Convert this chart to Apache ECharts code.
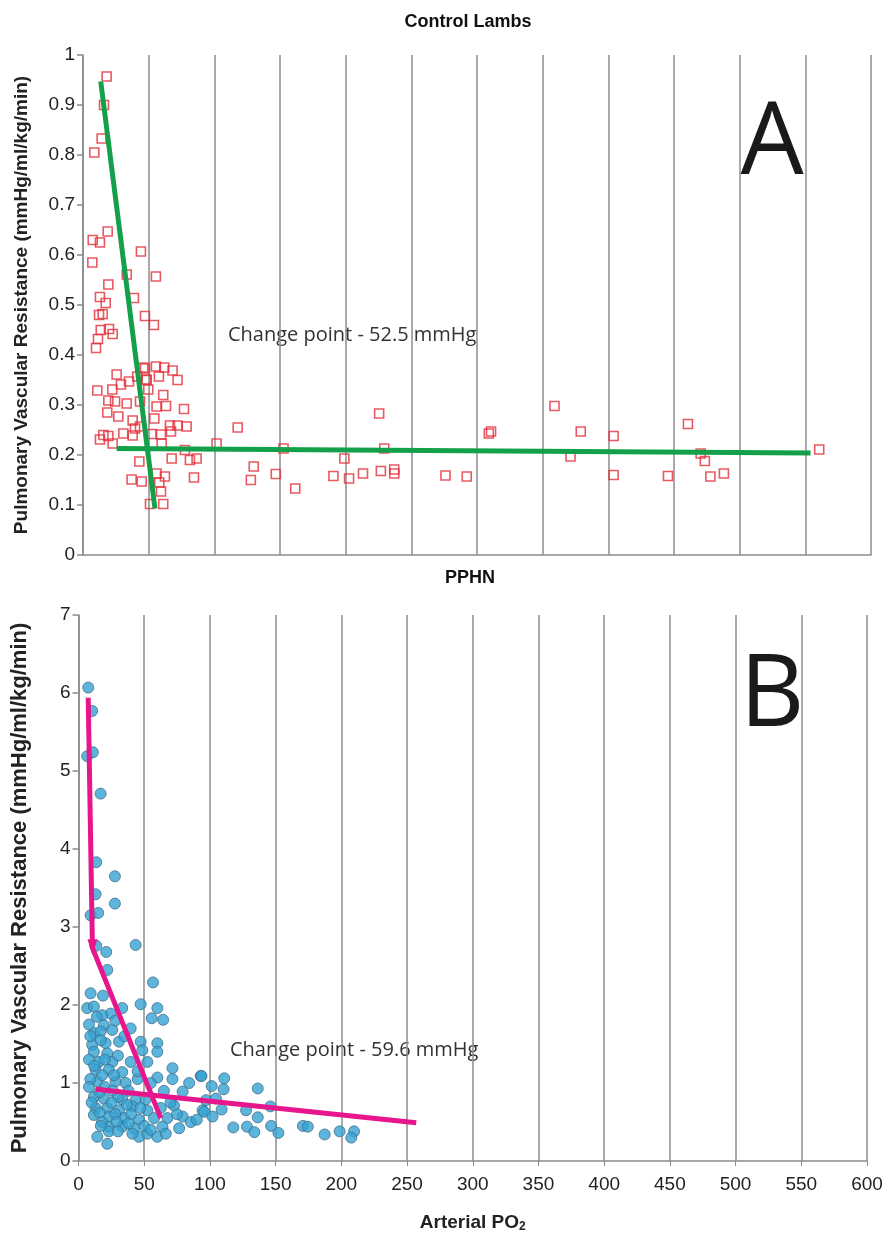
<!DOCTYPE html>
<html>
<head>
<meta charset="utf-8">
<script src="https://cdn.jsdelivr.net/npm/echarts@6/dist/echarts.min.js"></script>
<style>
html,body{margin:0;padding:0;background:#fff;}
#chart{width:888px;height:1234px;}
</style>
</head>
<body>
<div id="chart"></div>
<script>
// ---- Data ----
var xTicks = [0,50,100,150,200,250,300,350,400,450,500,550,600];
var controlTitle = 'Control Lambs';
var pphnTitle = 'PPHN';
var yName = 'Pulmonary Vascular Resistance (mmHg/ml/kg/min)';
var controlNote = 'Change point - 52.5 mmHg';
var pphnNote = 'Change point - 59.6 mmHg';

// Control lambs: [Arterial PO2, PVR]
var controlPoints = [
  [18,0.957],[16,0.90],[14.2,0.833],[8.6,0.805],
  [18.8,0.647],[7.4,0.63],[12.9,0.625],[7.1,0.585],[44.1,0.607],[33.3,0.561],[55.5,0.557],[19.3,0.541],
  [12.9,0.516],[17.3,0.504],[12.2,0.48],[15,0.482],[38.8,0.514],[47.2,0.478],[54,0.46],[13.5,0.45],
  [19.8,0.452],[22.6,0.442],[11.4,0.432],[9.9,0.414],
  [10.9,0.329],[25.6,0.361],[28.9,0.341],[22.3,0.331],[35,0.347],[41.3,0.357],[45.9,0.375],[47.9,0.351],
  [55.5,0.377],[61.9,0.375],[68.2,0.369],[72,0.35],[49.7,0.331],[57.8,0.357],[61.1,0.32],[19.3,0.309],
  [24.4,0.307],[33.3,0.303],[43.4,0.307],[56,0.297],[63.2,0.298],[76.9,0.292],[18.5,0.285],[26.9,0.277],
  [37.8,0.269],[54.3,0.273],[39.6,0.253],[66.2,0.259],[72,0.259],[78.9,0.257],[15.5,0.24],[19.3,0.238],
  [12.9,0.231],[22.6,0.223],[30.7,0.243],[37.8,0.239],[52.2,0.242],[59.4,0.241],[59.9,0.223],[67,0.247],
  [77.6,0.21],[86.5,0.193],[81.4,0.19],[67.5,0.193],[42.9,0.187],[101.7,0.223],[37,0.151],[44.7,0.147],
  [56,0.163],[62.4,0.157],[58.1,0.145],[59.4,0.127],[84.5,0.155],[51,0.102],[61.1,0.102],
  [47.2,0.373],[48.5,0.35],[43.4,0.257],
  [117.8,0.255],[130,0.177],[127.8,0.15],[146.8,0.162],[161.6,0.133],[152.7,0.213],[190.7,0.158],
  [202.6,0.153],[199,0.193],[213.2,0.163],[226.8,0.168],[237,0.171],[237,0.163],[225.5,0.283],
  [229.4,0.213],[276,0.159],[292.2,0.157],[309,0.243],[310.7,0.247],[359,0.298],[371.2,0.197],
  [379,0.247],[404,0.238],[404,0.16],[445.4,0.158],[460.6,0.262],[470.3,0.203],[473.5,0.188],
  [477.7,0.157],[488,0.163],[560.6,0.211]
];
var controlSteepLine = [[13.5,0.947],[54.8,0.093]];
var controlFlatLine = [[25.6,0.213],[554,0.204]];

// PPHN: [Arterial PO2, PVR]
var pphnPoints = [
  [7.4,6.07],[10.4,5.77],[6.6,5.19],[10.9,5.24],[16.8,4.71],[13.5,3.83],[27.7,3.65],[13,3.42],
  [27.7,3.30],[9.2,3.15],[15,3.18],[43.5,2.77],[13.5,2.76],[21.1,2.68],[21.9,2.45],[56.7,2.29],
  [9.2,2.15],[18.6,2.12],[47.3,2.01],[60,1.96],[33.3,1.96],[6.6,1.96],[11.7,1.98],
  [24.4,1.89],[18,1.87],[55.7,1.83],[64.4,1.81],[19.3,1.74],[11.7,1.64],[16.8,1.66],[25.7,1.68],
  [39.7,1.70],[47.3,1.53],[60,1.51],[60,1.40],[48.6,1.42],[10.4,1.49],[20.6,1.51],[30.8,1.53],
  [11.7,1.40],[21.9,1.38],[15.5,1.27],[25.7,1.27],[39.7,1.27],[52.4,1.27],[71.5,1.19],[13,1.17],
  [23.1,1.17],[33.3,1.14],[60,1.07],[71.5,1.05],[84.2,1.0],[93,1.09],[14.3,1.02],[28.2,1.02],
  [35.9,1.0],[79.2,0.89],[11.7,0.82],[19.3,0.80],[33.3,0.79],[43.5,0.78],[51.1,0.79],[72.7,0.71],
  [94.4,0.65],[13,0.68],[21.9,0.68],[30.8,0.65],[41,0.70],[52.4,0.65],[62.6,0.68],[11.7,0.59],
  [23.1,0.57],[34.6,0.55],[46,0.53],[57.5,0.55],[67.7,0.55],[79.2,0.57],[85.5,0.50],[23.1,0.44],
  [33.3,0.44],[42.2,0.42],[63.9,0.44],[76.6,0.42],[23.1,0.38],[46,0.31],[52.4,0.35],[60,0.31],
  [66.4,0.35],[14.3,0.31],[21.9,0.22],
  [8,1.75],[14,1.85],[9,1.6],[17,1.55],[8,1.3],[12,1.22],[18,1.1],[27,1.1],[9,1.05],[20,0.95],
  [26,0.9],[16,0.88],[38,0.9],[8,0.95],[30,0.82],[10,0.75],[25,0.75],[37,0.72],[47,0.68],[16,0.62],
  [28,0.6],[40,0.6],[18,0.5],[29,0.5],[38,0.48],[50,0.45],[55,0.4],[30,0.38],[17,0.45],[41,0.35],
  [70,0.75],[65,0.9],[55,1.0],[45,1.05],[20,1.3],[30,1.35],[35,1.6],[28,1.8],[45,1.15],[75,0.6],
  [93.6,1.09],[101.3,0.96],[110.9,1.06],[110.4,0.92],[136.4,0.93],[104.6,0.80],[97,0.78],[95.7,0.63],
  [102,0.57],[108.9,0.66],[127.5,0.65],[146,0.70],[90,0.53],[117.8,0.43],[128.2,0.44],[133.8,0.37],
  [136.4,0.56],[146.6,0.45],[152.1,0.36],[170.8,0.45],[174.5,0.44],[187.3,0.34],[198.7,0.38],
  [209.7,0.38],[207.6,0.30]
];
var pphnSteepLine = [[7.4,5.94],[10.6,2.74]];
var pphnMidLine = [[9.7,2.77],[62.6,0.55]];
var pphnFlatLine = [[13,0.92],[257,0.49]];

// ---- Chart ----
var FONT = '"Liberation Sans",Arial,sans-serif';
var chart = echarts.init(document.getElementById('chart'), null, {renderer:'canvas'});

function xAxisCfg(gi, showLabels){
  return {
    type:'value', gridIndex:gi, min:0, max:600, interval:50,
    axisLine:{show:true, lineStyle:{color:'#8c8c8c', width:1.5}},
    axisTick:{show:showLabels, length:5, lineStyle:{color:'#8c8c8c'}},
    axisLabel:{show:showLabels, color:'#222', fontSize:19, fontFamily:FONT, margin:14},
    splitLine:{show:true, lineStyle:{color:'#8c8c8c', width:1.5}},
    name: showLabels ? '{a|Arterial PO}{s|2}' : '',
    nameLocation:'middle', nameGap:52,
    nameTextStyle:{rich:{
      a:{fontSize:19, fontWeight:'bold', fontFamily:FONT, color:'#222'},
      s:{fontSize:12, fontWeight:'bold', fontFamily:FONT, color:'#222', verticalAlign:'bottom', padding:[8,0,0,0]}
    }}
  };
}
function yAxisCfg(gi, max, interval, gap, fs){
  return {
    type:'value', gridIndex:gi, min:0, max:max, interval:interval,
    axisLine:{show:true, lineStyle:{color:'#8c8c8c', width:1.5}},
    axisTick:{show:true, length:6, lineStyle:{color:'#8c8c8c', width:1.5}},
    axisLabel:{color:'#222', fontSize:19, fontFamily:FONT, margin:8},
    splitLine:{show:false},
    name: yName, nameLocation:'middle', nameRotate:90, nameGap:gap,
    nameTextStyle:{fontSize:fs, fontWeight:'bold', fontFamily:FONT, color:'#222'}
  };
}
function lineSeries(xi, data, color, extra){
  var s = {
    type:'line', xAxisIndex:xi, yAxisIndex:xi, data:data, z:5,
    symbol:'none', lineStyle:{color:color, width:5}, itemStyle:{color:color},
    silent:true
  };
  if(extra){ for(var k in extra) s[k]=extra[k]; }
  return s;
}

var arrowData = pphnSteepLine.map(function(p,i){
  return i === pphnSteepLine.length-1
    ? {value:p, symbol:'triangle', symbolSize:[10,16], symbolRotate:180}
    : {value:p, symbol:'none'};
});

var option = {
  animation:false,
  backgroundColor:'#ffffff',
  grid:[
    {left:83, right:17, top:55, height:500},
    {left:78.5, right:21, top:615, height:546}
  ],
  xAxis:[xAxisCfg(0,false), xAxisCfg(1,true)],
  yAxis:[yAxisCfg(0,1,0.1,52,19), yAxisCfg(1,7,1,48,22)],
  series:[
    {type:'scatter', xAxisIndex:0, yAxisIndex:0, data:controlPoints, symbol:'rect', symbolSize:9,
     itemStyle:{color:'rgba(255,255,255,0)', borderColor:'#e2303a', borderWidth:1.6}, z:3},
    lineSeries(0, controlSteepLine, '#14a04a'),
    lineSeries(0, controlFlatLine, '#14a04a'),
    {type:'scatter', xAxisIndex:1, yAxisIndex:1, data:pphnPoints, symbol:'circle', symbolSize:11,
     itemStyle:{color:'#36a3d3', borderColor:'#3f6f8a', borderWidth:1}, z:3},
    lineSeries(1, arrowData, '#e8168c', {showSymbol:true, showAllSymbol:true}),
    lineSeries(1, pphnMidLine, '#e8168c'),
    lineSeries(1, pphnFlatLine, '#e8168c')
  ],
  graphic:[
    {type:'text', x:468, y:22, style:{text:controlTitle, font:'bold 18px '+FONT, fill:'#111', align:'center', verticalAlign:'middle', textAlign:'center', textVerticalAlign:'middle'}},
    {type:'text', x:470, y:578, style:{text:pphnTitle, font:'bold 18px '+FONT, fill:'#111', align:'center', verticalAlign:'middle', textAlign:'center', textVerticalAlign:'middle'}},
    {type:'text', x:772, y:146, style:{text:'A', font:'100px "Open Sans","Liberation Sans",sans-serif', fill:'#1a1a1a', align:'center', verticalAlign:'middle', textAlign:'center', textVerticalAlign:'middle'}},
    {type:'text', x:772, y:698, style:{text:'B', font:'100px "Open Sans","Liberation Sans",sans-serif', fill:'#1a1a1a', align:'center', verticalAlign:'middle', textAlign:'center', textVerticalAlign:'middle'}},
    {type:'text', x:228, y:335, style:{text:controlNote, font:'20px "Open Sans","Liberation Sans",sans-serif', fill:'#333', align:'left', verticalAlign:'middle', textAlign:'left', textVerticalAlign:'middle'}},
    {type:'text', x:230, y:1050, style:{text:pphnNote, font:'20px "Open Sans","Liberation Sans",sans-serif', fill:'#333', align:'left', verticalAlign:'middle', textAlign:'left', textVerticalAlign:'middle'}}
  ]
};
chart.setOption(option);
</script>
</body>
</html>
